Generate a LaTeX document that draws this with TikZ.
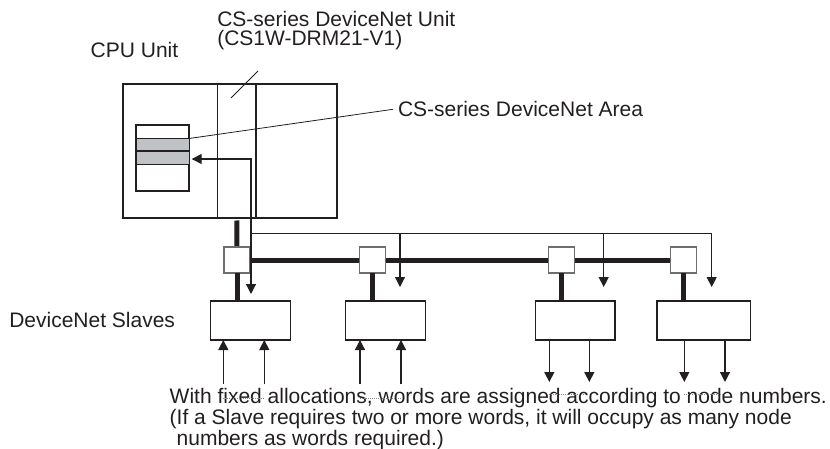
\documentclass[tikz,border=0pt]{standalone}
\usepackage{fontspec}
\setmainfont{Liberation Sans}
\usetikzlibrary{arrows.meta}
\definecolor{ink}{HTML}{231F20}
\definecolor{band}{HTML}{C0C3C6}
\definecolor{tgray}{HTML}{6D6E71}
\begin{document}
\begin{tikzpicture}[x=1pt,y=-1pt,
  every node/.style={inner sep=0pt,outer sep=0pt},
  lbl/.style={font=\fontsize{21}{21}\selectfont,text=ink,anchor=base west},
  thinln/.style={draw=ink,line width=1.2pt},
  busln/.style={draw=ink,line width=5pt},
  tip/.style={-{Triangle[width=10pt,length=10pt]}},
  arr/.style={thinln,tip},
  dotln/.style={draw=gray!90,line width=0.9pt,dash pattern=on 1pt off 1pt},
  frame/.style={draw=ink,line width=1.2pt},
  bandbox/.style={draw=ink,line width=1pt,fill=band,minimum width=53pt,minimum height=12.5pt},
  slavebox/.style={draw=ink,line width=1.3pt,fill=white,minimum height=39pt},
  tbox/.style={draw=tgray,line width=1.2pt,fill=white,minimum width=26pt,minimum height=26pt}
]
\useasboundingbox (0,0) rectangle (830,449);

% labels
\node[lbl] (cpu) at (90.7,58) {CPU Unit};
\node[lbl] (unit1) at (217.3,27) {CS-series DeviceNet Unit};
\node[lbl] (unit2) at (217.3,46) {(CS1W-DRM21-V1)};
\node[lbl] (area) at (398,116.5) {CS-series DeviceNet Area};
\node[lbl] (slv) at (9.3,327) {DeviceNet Slaves};
\node[lbl] (b1) at (169.7,403.5) {With fixed allocations, words are assigned according to node numbers.};
\node[lbl] (b2) at (169.7,424.5) {(If a Slave requires two or more words, it will occupy as many node};
\node[lbl] (b3) at (176.7,445.5) {numbers as words required.)};

% PLC
\node[frame,minimum width=214pt,minimum height=134pt] (plc) at (230,151) {};
\node[frame,minimum width=38.5pt,minimum height=134pt] (slot) at (236.75,151) {};
\node[frame,minimum width=53pt,minimum height=66pt] (mem) at (162.5,158) {};
\node[bandbox] (band1) at (162.5,144.75) {};
\node[bandbox] (band2) at (162.5,158.25) {};

% leaders
\coordinate (lu1) at (258,71);
\coordinate (lu2) at (231,98);
\draw[draw=ink,line width=0.8pt] (lu1) -- (lu2);
\coordinate (la) at (393,109.3);
\draw[draw=ink,line width=0.8pt] (band1.north east) -- (la);

% T boxes and slaves
\coordinate (t4w) at (670.5,260);
\draw[busln] (slot.south) ++(0,2.5) -- (237,247);
\draw[busln] (250,260) -- (t4w);
\node[tbox] (t1) at (237,260) {};
\node[tbox] (t2) at (372.3,260) {};
\node[tbox] (t3) at (561.7,260) {};
\node[tbox] (t4) at (683.5,260) {};

\node[slavebox,minimum width=79.6pt] (s1) at (250.5,320.5) {};
\node[slavebox,minimum width=80pt] (s2) at (385.7,320.5) {};
\node[slavebox,minimum width=79.7pt] (s3) at (575.2,320.5) {};
\node[slavebox,minimum width=93.3pt] (s4) at (703.7,320.5) {};

\foreach \t/\s in {t1/s1,t2/s2,t3/s3,t4/s4}
  \draw[busln] (\t.south) -- (\t.south |- \s.north);

% thin arrows from the unit
\coordinate (memtip) at (191.7,159);
\coordinate (crn) at (251,159);
\coordinate (a1) at (251,294);
\coordinate (h0) at (251,233.3);
\coordinate (a2) at (400,287);
\coordinate (a3) at (603.7,287);
\coordinate (a4) at (711.7,287);
\draw[thinln,{Triangle[width=10pt,length=10pt]}-{Triangle[width=10pt,length=10pt]}] (a1) -- (crn) -- (memtip);
\draw[arr] (h0) -| (a4);
\draw[arr] (a2 |- h0) -- (a2);
\draw[arr] (a3 |- h0) -- (a3);

% bottom arrows
\coordinate (p1a) at (223.3,384);
\coordinate (p1b) at (264.3,384);
\coordinate (p2a) at (360,384);
\coordinate (p2b) at (401,384);
\coordinate (p3a) at (549.3,382);
\coordinate (p3b) at (589.3,382);
\coordinate (p4a) at (684.3,382);
\coordinate (p4b) at (725,382);
\draw[arr] (p1a) -- (p1a |- s1.south);
\draw[arr] (p1b) -- (p1b |- s1.south);
\draw[arr] (p2a) -- (p2a |- s2.south);
\draw[arr] (p2b) -- (p2b |- s2.south);
\draw[arr] (p3a |- s3.south) -- (p3a);
\draw[arr] (p3b |- s3.south) -- (p3b);
\draw[arr] (p4a |- s4.south) -- (p4a);
\draw[arr] (p4b |- s4.south) -- (p4b);
\foreach \u/\v in {p1a/p1b,p2a/p2b}
  \draw[dotln] ([yshift=-14pt]\u) -- ([yshift=-14pt]\v);
\foreach \u/\v in {p3a/p3b,p4a/p4b}
  \draw[dotln] ([yshift=-12pt]\u) -- ([yshift=-12pt]\v);
\end{tikzpicture}
\end{document}
